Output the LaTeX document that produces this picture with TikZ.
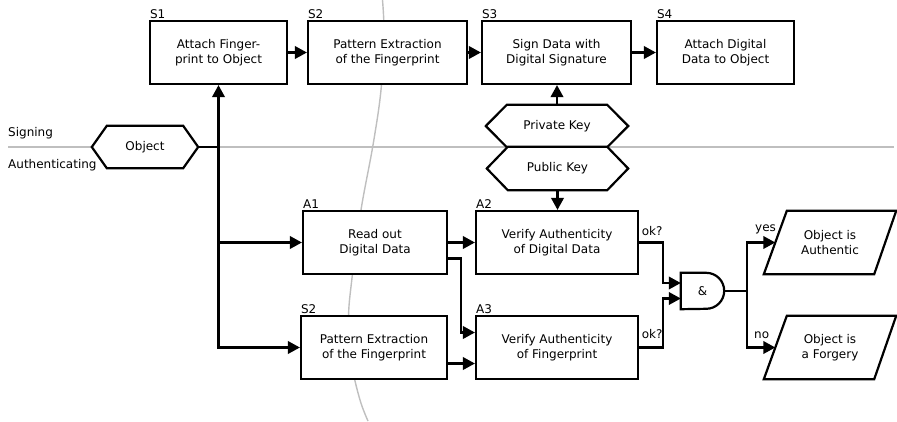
\documentclass[tikz,border=0pt]{standalone}
\usepackage{fontspec}
\setmainfont{DejaVu Sans}
\usetikzlibrary{arrows.meta}
\pgfdeclarelayer{bg}
\pgfdeclarelayer{mid}
\pgfsetlayers{bg,mid,main}
\begin{document}
\begin{tikzpicture}[x=1pt,y=-1pt,
  every node/.style={font=\fontsize{12}{15}\selectfont, inner sep=0pt},
  box/.style={draw, line width=2.2pt, fill=white, minimum height=63pt, align=center},
  plain/.style={minimum height=42pt, align=center},
  tag/.style={anchor=south west, inner sep=1pt},
  conn/.style={line width=2.2pt},
  arr/.style={conn, -{Triangle[length=12pt,width=12.5pt]}},
  shp/.style={draw, line width=2.2pt, fill=white, line join=miter},
  guide/.style={draw=black!25, line width=1.4pt}]
\useasboundingbox (0,0) rectangle (897,421);

% nodes
\node[box, minimum width=137pt] (S1) at (218.5,52.5) {Attach Finger-\\print to Object};
\node[box, minimum width=159pt] (S2) at (387.5,52.5) {Pattern Extraction\\of the Fingerprint};
\node[box, minimum width=149pt] (S3) at (556.5,52.5) {Sign Data with\\Digital Signature};
\node[box, minimum width=137pt] (S4) at (725.5,52.5) {Attach Digital\\Data to Object};
\node[plain, minimum width=142pt] (priv) at (557,126) {Private Key};
\node[plain, minimum width=141pt, minimum height=43pt] (pub) at (557.5,168.5) {Public Key};
\node[plain, minimum width=106pt] (obj) at (145,147) {Object};
\node[box, minimum width=144pt] (A1) at (375,242.5) {Read out\\Digital Data};
\node[box, minimum width=162pt] (A2) at (557,242.5) {Verify Authenticity\\of Digital Data};
\node[box, minimum width=146pt] (S2b) at (374,347.5) {Pattern Extraction\\of the Fingerprint};
\node[box, minimum width=162pt] (A3) at (557,347.5) {Verify Authenticity\\of Fingerprint};
\node[minimum width=43pt, minimum height=36pt] (gate) at (702.5,291) {\&\hspace{12pt}};
\node[plain, minimum width=132pt, minimum height=63pt] (auth) at (830,242.5) {Object is\\Authentic};
\node[plain, minimum width=132pt, minimum height=63pt] (forg) at (830,347.5) {Object is\\a Forgery};

% tags
\node[tag] (tS1) at (S1.north west) {S1};
\node[tag] (tS2) at (S2.north west) {S2};
\node[tag] (tS3) at (S3.north west) {S3};
\node[tag] (tS4) at (S4.north west) {S4};
\node[tag] (tA1) at (A1.north west) {A1};
\node[tag] (tA2) at (A2.north west) {A2};
\node[tag] (tS2b) at (S2b.north west) {S2};
\node[tag] (tA3) at (A3.north west) {A3};

\node[anchor=base west] (sig) at (8,136.5) {Signing};
\node[anchor=base west] (aut) at (8,168.5) {Authenticating};

% shapes
\begin{pgfonlayer}{mid}
\draw[shp] (obj.west) -- ([xshift=15pt]obj.north west) -- ([xshift=-15pt]obj.north east) -- (obj.east) -- ([xshift=-15pt]obj.south east) -- ([xshift=15pt]obj.south west) -- cycle;
\draw[shp] (priv.west) -- ([xshift=21pt]priv.north west) -- ([xshift=-21pt]priv.north east) -- (priv.east) -- ([xshift=-21pt]priv.south east) -- ([xshift=21pt]priv.south west) -- cycle;
\draw[shp] (pub.west) -- ([xshift=21pt]pub.north west) -- ([xshift=-21pt]pub.north east) -- (pub.east) -- ([xshift=-21pt]pub.south east) -- ([xshift=21pt]pub.south west) -- cycle;
\draw[shp] ([xshift=23pt]auth.north west) -- (auth.north east) -- ([xshift=-22pt]auth.south east) -- (auth.south west) -- cycle;
\draw[shp] ([xshift=23pt]forg.north west) -- (forg.north east) -- ([xshift=-22pt]forg.south east) -- (forg.south west) -- cycle;
\draw[shp] (gate.north west) -- ([xshift=-18pt]gate.north east) arc[start angle=90, end angle=-90, radius=18pt] -- (gate.south west) -- cycle;
\end{pgfonlayer}

% guides
\begin{pgfonlayer}{bg}
\draw[guide] (8,147) -- (894,147);
\draw[guide] plot[smooth, tension=0.6] coordinates {(382.5,0) (384,35) (381,90) (373,145) (361,210) (352,278) (348.5,320) (352,365) (360,400) (368,421)};
\end{pgfonlayer}

% connectors
\coordinate (j) at (S1.south |- obj.east);
\coordinate (j2) at (j |- A1.west);
\draw[conn] (obj.east) -- (j);
\draw[arr] (j) -- (S1.south);
\draw[arr] (j) -- (j2) -- (A1.west);
\draw[arr] (j2) |- (S2b.west);
\draw[arr] (S1) -- (S2);
\draw[arr] (S2) -- (S3);
\draw[arr] (S3) -- (S4);
\draw[arr] (priv.north) -- (priv.north |- S3.south);
\draw[arr] (pub.south) -- (pub.south |- A2.north);
\draw[arr] (A1) -- (A2);
\draw[arr] ([yshift=-16pt]A1.east) -- ++(13pt,0) |- ([yshift=15pt]A3.west);
\coordinate (s2o) at ([yshift=-16pt]S2b.east);
\draw[arr] (s2o) -- (s2o -| A3.west);
\coordinate (g1) at ([yshift=8pt]gate.west);
\coordinate (g2) at ([yshift=-7.5pt]gate.west);
\draw[arr] (A2.east) -- ++(24pt,0) |- (g1);
\draw[arr] (A3.east) -- ++(24pt,0) |- (g2);
\coordinate (br) at (746.7,291);
\draw[conn] (gate.east) -- (br);
\draw[arr] (br) |- ([xshift=11.5pt]auth.west);
\draw[arr] (br) |- ([xshift=11.5pt]forg.west);

% edge labels
\node[anchor=base west] (ok1) at ([xshift=2.5pt,yshift=7.5pt]A2.east) {ok?};
\node[anchor=base west] (ok2) at ([xshift=2.5pt,yshift=9.5pt]A3.east) {ok?};
\node[anchor=base west] (yes) at (755,231) {yes};
\node[anchor=base west] (no) at (754,338) {no};
\end{tikzpicture}
\end{document}
